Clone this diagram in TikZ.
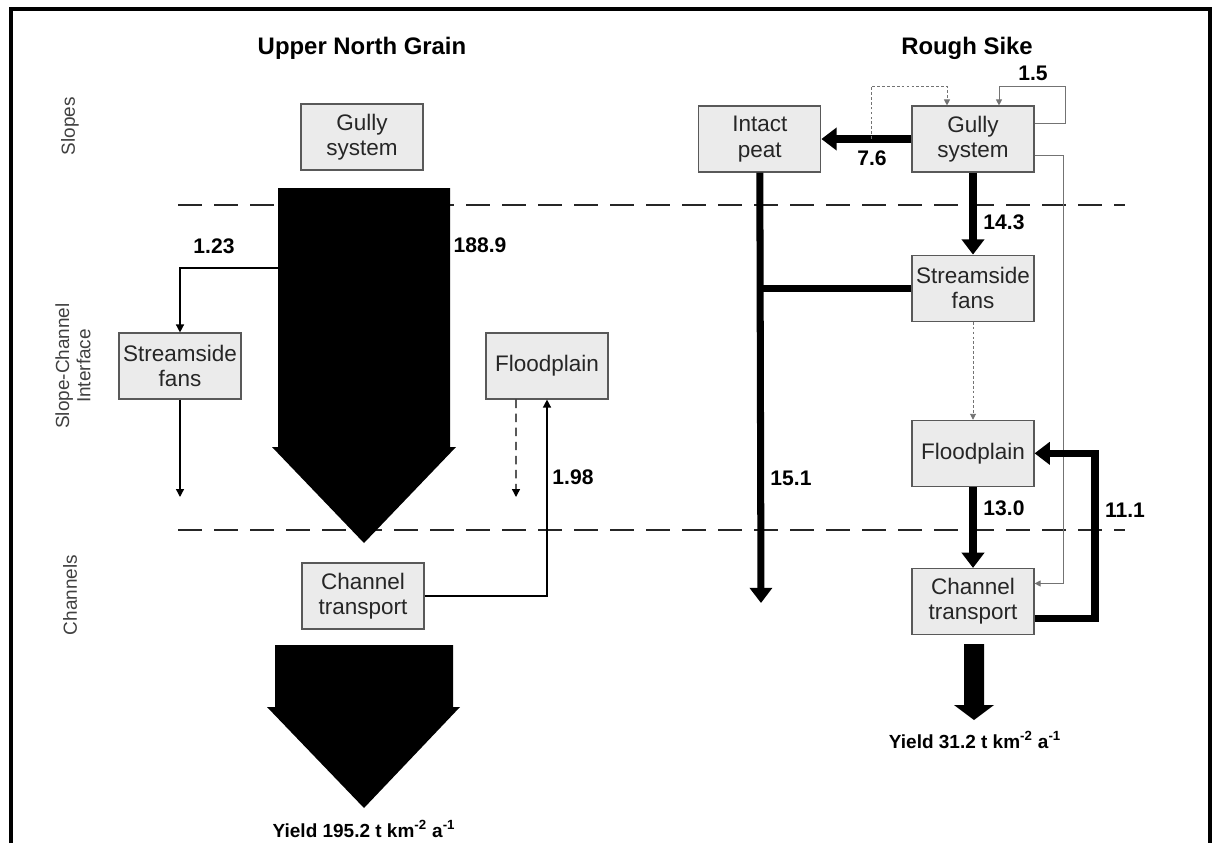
\documentclass[tikz,border=0pt]{standalone}
\usepackage{fontspec}
\setmainfont{Liberation Sans}
\usetikzlibrary{positioning, arrows.meta}

\begin{document}
\begin{tikzpicture}[
        x=0.025cm, y=-0.025cm,
        every node/.style={font=\fontsize{15}{17}\selectfont},
        box/.style={draw=black!65, line width=0.8pt, fill=black!8, minimum width=3.05cm, minimum height=1.65cm, align=center, inner sep=1pt, text=black!85, font=\fontsize{16}{18}\selectfont},
        val/.style={font=\fontsize{15}{17}\selectfont\bfseries},
        title/.style={font=\fontsize{17}{19}\selectfont\bfseries},
        zone/.style={rotate=90, align=center, text=black!75, font=\fontsize{13.5}{15}\selectfont},
        yield/.style={font=\fontsize{13.5}{15}\selectfont\bfseries},
        divider/.style={dash pattern=on 0.6cm off 0.3cm, line width=2pt, black!85},
        flow/.style={-{Triangle[width=0.2cm, length=0.2cm]}, line width=1pt},
        heavy/.style={-{Triangle[width=0.55cm, length=0.38cm]}, line width=5pt},
        faint/.style={-{Triangle[width=0.15cm, length=0.15cm]}, line width=0.7pt, black!55},
        dotty/.style={dash pattern=on 2pt off 1.5pt}
    ]
    \useasboundingbox (0,0) rectangle (1218,843);

    % Frame
    \draw[line width=2.5pt] (11,843) -- (11,9) -- (1210,9) -- (1210,843);

    % Titles and zones
    \node[title] (nameL) at (362,48) {Upper North Grain};
    \node[title] (nameR) at (967,48) {Rough Sike};
    \node[zone] (slopes) at (70,126) {Slopes};
    \node[zone] (iface) at (73,366) {Slope-Channel\\Interface};
    \node[zone] (chans) at (70,595) {Channels};

    % Zone dividers
    \draw[divider] (178,205) -- (1125,205);
    \draw[divider] (178,530) -- (1125,530);

    % Upper North Grain
    \node[box] (gullyL) at (362,137) {Gully\\system};
    \node[box] (fansL) at (180,366) {Streamside\\fans};
    \node[box] (floodL) at (547,366) {Floodplain};
    \node[box] (chanL) at (363,596) {Channel\\transport};

    \fill (278,188) -- (450,188) -- (450,447) -- (456,447) -- (364,543) -- (272,447) -- (278,447) -- cycle;
    \fill (275,645) -- (453,645) -- (453,707) -- (460,707) -- (364,808) -- (267,707) -- (275,707) -- cycle;

    \coordinate (tap) at (278,268);
    \coordinate (fansOut) at (180,497);
    \coordinate (floodOut) at (516,497);
    \draw[flow] (tap) -| (fansL.north);
    \draw[flow] (fansL.south) -- (fansOut);
    \draw[flow, dash pattern=on 6pt off 4pt] ([xshift=-0.775cm]floodL.south) -- (floodOut);
    \draw[flow] (chanL.east) -| (floodL.south);

    \node[val] (v123) at (214,246) {1.23};
    \node[val] (v1889) at (480,245) {188.9};
    \node[val] (v198) at (573,477) {1.98};
    \node[yield] (yieldL) at (364,829) {Yield 195.2 t km\textsuperscript{-2} a\textsuperscript{-1}};

    % Rough Sike
    \node[box] (gullyR) at (973,139) {Gully\\system};
    \node[box, left=2.25cm of gullyR] (peat) {Intact\\peat};
    \node[box, below=2.05cm of gullyR] (fansR) {Streamside\\fans};
    \node[box, below=2.45cm of fansR] (floodR) {Floodplain};
    \node[box, below=2.025cm of floodR] (chanR) {Channel\\transport};

    \coordinate (split) at (871,139);
    \coordinate (loopY) at (0,86);
    \coordinate (rail) at (1063,400);
    \coordinate (ret) at (1095,530);
    \coordinate (peatEnd) at (761,603);

    \draw[heavy] (gullyR.west) -- (peat.east);
    \draw[faint, dotty] (split) |- ([xshift=-0.65cm]gullyR.north |- loopY) -- ([xshift=-0.65cm]gullyR.north);
    \draw[faint] ([yshift=0.39cm]gullyR.east) -| (1065,86) -| ([xshift=0.65cm]gullyR.north);
    \draw[faint] ([yshift=-0.41cm]gullyR.east) -| (rail) |- ([yshift=0.45cm]chanR.east);
    \draw[heavy] (gullyR.south) -- (fansR.north);
    \draw[heavy] (peat.south) -- (peatEnd);
    \draw[line width=5pt] (fansR.west) -- (fansR.west -| peat.south);
    \draw[faint, dotty] (fansR.south) -- (floodR.north);
    \draw[heavy] (floodR.south) -- (chanR.north);
    \draw[heavy] ([yshift=-0.42cm]chanR.east) -| (ret) |- (floodR.east);
    \fill (964,644) -- (984,644) -- (984,705) -- (994,705) -- (974,720) -- (954,705) -- (964,705) -- cycle;

    \node[val] (v76) at (872,158) {7.6};
    \node[val] (v15) at (1033,73) {1.5};
    \node[val] (v143) at (1004,222) {14.3};
    \node[val] (v151) at (791,478) {15.1};
    \node[val] (v130) at (1004,508) {13.0};
    \node[val] (v111) at (1125,510) {11.1};
    \node[yield] (yieldR) at (975,740) {Yield 31.2 t km\textsuperscript{-2} a\textsuperscript{-1}};

\end{tikzpicture}
\end{document}
